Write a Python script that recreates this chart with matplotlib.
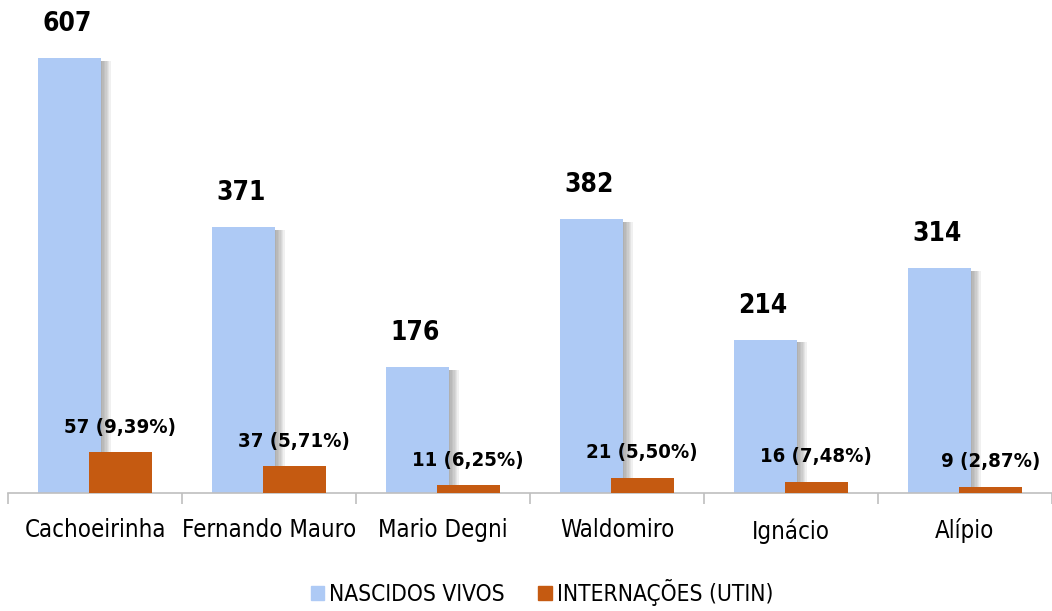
import matplotlib
matplotlib.use("Agg")
import matplotlib.pyplot as plt
import matplotlib.patheffects as pe
from matplotlib import font_manager
from matplotlib.patches import Patch
import numpy as np

# Hospital names and values
hospitais = ["Cachoeirinha", "Fernando Mauro", "Mario Degni", "Waldomiro", "Ignácio", "Alípio"]
nascidos_vivos = [607, 371, 176, 382, 214, 314]
internacoes = [57, 37, 11, 21, 16, 9]
percentuais = ["9,39%", "5,71%", "6,25%", "5,50%", "7,48%", "2,87%"]

# look for a narrow font, the original looks like Arial Narrow
fontes = font_manager.fontManager.ttflist
nomes = set(f.name for f in fontes)
condensada = [f for f in fontes if f.name == 'DejaVu Sans' and 'condensed' in str(f.stretch)]
esticar = 'normal'
escala = 0.84
if 'Liberation Sans Narrow' in nomes:
    familia = ['Liberation Sans Narrow', 'DejaVu Sans']
    escala = 1.0
elif condensada:
    familia = ['DejaVu Sans']
    esticar = 'condensed'
    escala = 0.86
else:
    familia = ['Liberation Sans', 'DejaVu Sans']
plt.rcParams['font.family'] = familia
plt.rcParams['font.stretch'] = esticar

azul = '#AECAF5'
laranja = '#C55A11'

fig = plt.figure(figsize=(10.52, 6.11), dpi=100)
ax = fig.add_axes([8 / 1052, 118 / 611, 1044 / 1052, 493 / 611])

x = np.arange(len(hospitais))
largura = 0.36
desloc = 0.145

# soft shadow on the right of the blue bars
sombra = [pe.SimplePatchShadow(offset=(d, -2), shadow_rgbFace='#606060', alpha=0.09) for d in range(1, 8)]
barras_azuis = ax.bar(x - desloc, nascidos_vivos, largura, color=azul, zorder=2)
for b in barras_azuis:
    b.set_path_effects(sombra + [pe.Normal()])
barras_laranja = ax.bar(x + desloc, internacoes, largura, color=laranja, zorder=3)

# data labels
for xi, v in zip(x, nascidos_vivos):
    ax.annotate(str(v), (xi - desloc, v), xytext=(-3, 34), textcoords='offset pixels',
                ha='center', va='center', fontsize=22 * escala, fontweight='bold')
for xi, v, p in zip(x, internacoes, percentuais):
    ax.annotate(f"{v} ({p})", (xi + desloc, v), xytext=(0, 25), textcoords='offset pixels',
                ha='center', va='center', fontsize=17 * escala, fontweight='bold')

ax.set_xlim(-0.5, len(hospitais) - 0.5)
ax.set_ylim(0, 688)
ax.set_yticks([])

ax.set_xticks(x)
ax.set_xticklabels(hospitais, fontsize=20 * escala)
ax.tick_params(axis='x', which='major', length=0, pad=18)
ax.set_xticks(np.arange(-0.5, len(hospitais), 1), minor=True)
ax.tick_params(axis='x', which='minor', length=8, color='#BFBFBF', width=1.2)

for s in ['top', 'right', 'left']:
    ax.spines[s].set_visible(False)
ax.spines['bottom'].set_color('#BFBFBF')
ax.spines['bottom'].set_linewidth(1.2)

# legend with plain squares (no shadow)
itens = [Patch(color=azul, label='NASCIDOS VIVOS'), Patch(color=laranja, label='INTERNAÇÕES (UTIN)')]
fig.legend(handles=itens, loc='lower center', bbox_to_anchor=(0.515, -0.025), ncol=2, frameon=False,
           fontsize=19 * escala, handlelength=0.6, handleheight=0.6, handletextpad=0.2, columnspacing=1.5)

fig.savefig('out.png', dpi=100)
